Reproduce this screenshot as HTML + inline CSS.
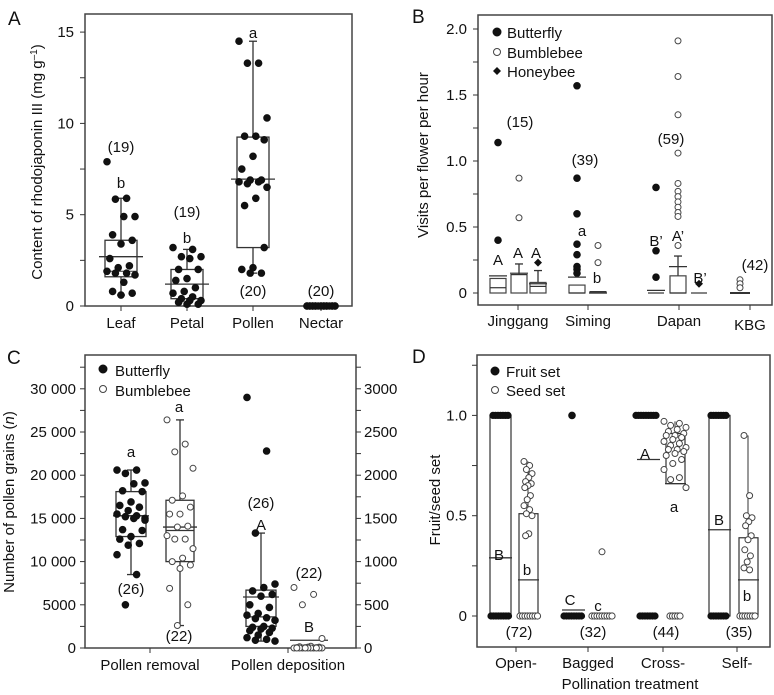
<!DOCTYPE html>
<html><head><meta charset="utf-8">
<style>
html,body{margin:0;padding:0;background:#fff;}
svg{display:block;font-family:"Liberation Sans",Arial,sans-serif;}
text{fill:#111;}
</style></head>
<body>
<svg id="fig" width="774" height="695" viewBox="0 0 774 695" xmlns="http://www.w3.org/2000/svg"></svg>
<script>
// ---------- DATA ----------
// Panel A
const aCategories = ["Leaf","Petal","Pollen","Nectar"];
const aLeaf = [7.9,5.9,5.85,4.9,4.9,3.9,3.6,3.4,2.6,2.2,2.1,1.9,1.8,1.8,1.7,1.3,0.8,0.7,0.6];
const aPetal = [3.2,3.1,2.7,2.7,2.6,2.0,2.0,1.5,1.4,1.0,0.8,0.7,0.5,0.4,0.3,0.3,0.2,0.1,0.1];
const aPollen = [14.5,13.3,13.3,10.3,9.3,9.3,9.1,8.2,7.5,6.9,6.9,6.8,6.8,6.7,6.5,5.9,5.5,3.2,2.1,2.0,1.8,1.8];
const aNectar = [0,0,0,0,0,0,0,0,0,0,0,0,0,0,0,0,0,0,0,0];
const aStats = [[0.6,1.6,2.7,3.6,5.9],[0,0.4,1.2,2.0,3.1],[1.8,3.2,6.95,9.25,14.5],[0,0,0,0,0]];
const aN = ["(19)","(19)","(20)","(20)"];
const aLetters = ["b","b","a",""];
const aTicks = [0,5,10,15];
// Panel B
const bCategories = ["Jinggang","Siming","Dapan","KBG"];
const bButterfly = [[1.14,0.4],[1.57,0.87,0.6,0.37,0.29,0.2,0.18,0.15],[0.8,0.32,0.12],[]];
const bBumblebee = [[0.87,0.57],[0.36,0.23],[1.91,1.64,1.35,1.06,0.83,0.77,0.73,0.69,0.65,0.61,0.58,0.36],[0.1,0.07,0.04]];
const bHoneybee = [[0.23],[],[0.07],[]];
const bTicks = [0,0.5,1.0,1.5,2.0];
// Panel C
const cRemovalButterfly = [20600,20600,20200,19100,19000,18200,18100,16900,16500,16300,15900,15500,15300,15200,15000,15000,13700,13600,12900,12600,12100,11900,10800,8500,5000,14800];
const cRemovalBumblebee = [26400,23600,22700,20800,17600,17100,16300,15500,15500,14100,14000,13000,12600,12600,11500,10400,10000,9600,9200,6900,5000,2600];
const cDepButterfly = [2900,2280,1330,740,700,660,620,600,500,470,400,380,350,340,320,250,240,230,220,200,180,150,120,100,90,80];
const cDepBumblebee = [700,620,500,110,20,15,10,10,5,5,5,0,0,0,0,0,0,0,0,0,0,0];
const cTicksLeft = [0,5000,10000,15000,20000,25000,30000];
const cTicksRight = [0,500,1000,1500,2000,2500,3000];
// Panel D
const dCategories = ["Open-","Bagged","Cross-","Self-"];
const dSeedOpen = [0.77,0.75,0.73,0.71,0.69,0.67,0.66,0.65,0.64,0.6,0.58,0.55,0.53,0.51,0.5,0.41,0.4];
const dSeedBagged = [0.32];
const dSeedCross = [0.97,0.96,0.95,0.94,0.93,0.92,0.91,0.9,0.9,0.89,0.88,0.87,0.86,0.85,0.84,0.83,0.83,0.82,0.81,0.8,0.78,0.76,0.73,0.69,0.68,0.64];
const dSeedSelf = [0.9,0.6,0.5,0.49,0.47,0.45,0.4,0.38,0.33,0.3,0.27,0.24,0.23];
const dFruitMean = [0.29,0.03,0.78,0.43];
const dSeedMedian = [0.18,0.0,0.66,0.18];
const dN = ["(72)","(32)","(44)","(35)"];
const dTicks = [0,0.5,1.0];

// ---------- HELPERS ----------
const svg = document.getElementById('fig');
const NS = "http://www.w3.org/2000/svg";
function mk(tag, attrs, parent){
  const e = document.createElementNS(NS, tag);
  for (const k in attrs) e.setAttribute(k, attrs[k]);
  (parent||svg).appendChild(e);
  return e;
}
function txt(x,y,s,size,anchor,parent){
  const t = mk('text',{x:x,y:y,'font-size':size,'text-anchor':anchor||'middle'},parent);
  t.textContent = s;
  return t;
}
function jit(i){ return ((i*7)%11)/10 - 0.5; }
function dot(x,y,filled,r,parent){
  return mk('circle',{cx:x,cy:y,r:r||3.3,fill:filled?'#111':'#fff',stroke:filled?'#111':'#444','stroke-width':1},parent);
}
function line(x1,y1,x2,y2,parent,w){
  return mk('line',{x1:x1,y1:y1,x2:x2,y2:y2,stroke:'#333','stroke-width':w||1.3},parent);
}
function frame(x1,y1,x2,y2,parent){
  return mk('rect',{x:x1,y:y1,width:x2-x1,height:y2-y1,fill:'none',stroke:'#444','stroke-width':1.5},parent);
}

// ---------- PANEL A ----------
const gA = mk('g',{});


const yA = v => 306 - v*91.3/5;
const xA = [121,187,253,321];
let t = txt(8,25,"A",19,'start',gA);
 
const fA = frame(85,14,352,306,gA);
 
for (let v=0; v<=15; v+=2.5){ line(80,yA(v),85,yA(v),gA,1); }
aTicks.forEach(v=>{
  const tk = txt(74,yA(v)+5,String(v),15,'end',gA);
   
});
t = mk('text',{transform:'translate(42,162) rotate(-90)','font-size':15,'text-anchor':'middle'},gA);
t.innerHTML = 'Content of rhodojaponin III (mg g<tspan dy="-5" font-size="10">\u20131</tspan><tspan dy="5">)</tspan>';
 
const aPts = [aLeaf,aPetal,aPollen,aNectar];
aCategories.forEach((c,i)=>{
  const cx = xA[i], s = aStats[i];
  line(cx,306,cx,311,gA,1);
  const lab = txt(cx,328,c,15,'middle',gA);
   
  const g = mk('g',{},gA);
   
  if (i<3){
    line(cx,yA(s[0]),cx,yA(s[4]),g);
    line(cx-4,yA(s[0]),cx+4,yA(s[0]),g); line(cx-4,yA(s[4]),cx+4,yA(s[4]),g);
    mk('rect',{x:cx-16,y:yA(s[3]),width:32,height:yA(s[1])-yA(s[3]),fill:'#fff',stroke:'#333','stroke-width':1.3},g);
    line(cx-22,yA(s[2]),cx+22,yA(s[2]),g);
    if (i===0) line(cx-16,yA(1.9),cx+16,yA(1.9),g,1);
  } else {
    line(cx-15,yA(0),cx+16,yA(0),g,3);
  }
  aPts[i].forEach((v,j)=>{
    const d = dot(cx + jit(j)*28, yA(v), true, 3.3, g);
     
  });
});
[[121,152,aN[0]],[121,188,aLetters[0]],[187,217,aN[1]],[187,243,aLetters[1]],[253,296,aN[2]],[253,38,aLetters[2]],[321,296,aN[3]]].forEach(a=>{
  const l = txt(a[0],a[1],a[2],15,'middle',gA);
   
});

// ---------- PANEL B ----------
const gB = mk('g',{});


const yB = v => 293 - v*132;
t = txt(412,23,"B",19,'start',gB);
 
const fB = frame(478,15,772,305,gB);
 
for (let v=0; v<=2.0001; v+=0.25){ line(473,yB(v),478,yB(v),gB,1); }
bTicks.forEach(v=>{
  const tk = txt(467,yB(v)+5,v===0?"0":v.toFixed(1),15,'end',gB);
   
});
t = txt(0,0,"Visits per flower per hour",15,'middle',gB);
t.setAttribute('transform','translate(428,155) rotate(-90)');
 
const xB = [518,588,679,750];
const subX = [[498,519,538],[577,598,0],[656,678,699],[0,740,0]];
bCategories.forEach((c,i)=>{
  line(xB[i],305,xB[i],310,gB,1);
  const lab = txt(xB[i],i===3?330:326,c,15,'middle',gB);
   
  bButterfly[i].forEach((v,j)=>{ const d=dot(subX[i][0],yB(v),true,3.3,gB);   });
  bBumblebee[i].forEach((v,j)=>{ const d=dot(subX[i][1],yB(v),false,3,gB);   });
  bHoneybee[i].forEach((v,j)=>{ const d=mk('path',{d:`M${subX[i][2]},${yB(v)-4}l4,4l-4,4l-4,-4z`,fill:'#111'},gB);   });
});
function bbox(cx,q1,med,q3,mean,whi){
  const g = mk('g',{},gB);
   
  if (whi!==null){ line(cx,yB(q3),cx,yB(whi),g); line(cx-4,yB(whi),cx+4,yB(whi),g); }
  if (q3>q1) mk('rect',{x:cx-8,y:yB(q3),width:16,height:yB(q1)-yB(q3),fill:'#fff',stroke:'#444','stroke-width':1.2},g);
  line(cx-8,yB(med),cx+8,yB(med),g,1.2);
  if (mean!==null) line(cx-9,yB(mean),cx+9,yB(mean),g,1.2);
}
bbox(498,0,0.04,0.11,0.13,null);
bbox(519,0,0.14,0.14,0.15,0.22);
bbox(538,0,0.05,0.08,0.07,0.17);
bbox(577,0,0.0,0.06,0.12,null);
bbox(598,0,0.01,0.01,0.0,null);
bbox(656,0,0.0,0.0,0.02,null);
bbox(678,0,0.0,0.13,0.2,0.28);
bbox(699,0,0.0,0.0,null,null);
line(730,yB(0),750,yB(0),gB,2);
[[498,265,"A"],[518,258,"A"],[536,258,"A"],[520,127,"(15)"],[585,165,"(39)"],[582,236,"a"],[597,283,"b"],[656,246,"B’"],[678,241,"A’"],[700,283,"B’"],[671,144,"(59)"],[755,270,"(42)"]].forEach(a=>{
  const l = txt(a[0],a[1],a[2],15,'middle',gB);
   
});
const legB = mk('g',{},gB);
 
let le = dot(497,32,true,4,legB);  
le = dot(497,52,false,3.5,legB);  
le = mk('path',{d:'M497,67l4,4l-4,4l-4,-4z',fill:'#111'},legB);  
[["Butterfly",38],["Bumblebee",58],["Honeybee",77]].forEach(a=>{const l=txt(507,a[1],a[0],15,'start',legB);  });

// ---------- PANEL C ----------
const gC = mk('g',{});


const yC = v => 648 - v*43.2/5000;
const yC2 = v => 648 - v*43.2/500;
t = txt(7,364,"C",19,'start',gC);
 
const fC = frame(85,355,356,648,gC);
 
for (let v=0; v<=32500; v+=2500){ line(80,yC(v),85,yC(v),gC,1); line(356,yC(v),361,yC(v),gC,1); }
cTicksLeft.forEach(v=>{
  const s = v>=10000 ? String(v).replace(/(\d+)(\d{3})$/,'$1 $2') : String(v);
  const tk = txt(76,yC(v)+5,s,15,'end',gC);
   
});
cTicksRight.forEach(v=>{
  const tk = txt(364,yC2(v)+5,String(v),15,'start',gC);
   
});
t = mk('text',{transform:'translate(14,502) rotate(-90)','font-size':15,'text-anchor':'middle'},gC);
t.innerHTML = 'Number of pollen grains (<tspan font-style="italic">n</tspan>)';
 
[["Pollen removal",150],["Pollen deposition",288]].forEach(a=>{
  line(a[1],648,a[1],653,gC,1);
  const l=txt(a[1],670,a[0],15,'middle',gC);  
});
function cbox(cx,hw,sc,st,mean,name){
  const g = mk('g',{},gC);
   
  line(cx,sc(st[0]),cx,sc(st[4]),g);
  line(cx-4,sc(st[0]),cx+4,sc(st[0]),g); line(cx-4,sc(st[4]),cx+4,sc(st[4]),g);
  mk('rect',{x:cx-hw,y:sc(st[3]),width:2*hw,height:sc(st[1])-sc(st[3]),fill:'#fff',stroke:'#333','stroke-width':1.3},g);
  line(cx-hw,sc(st[2]),cx+hw,sc(st[2]),g);
  line(cx-hw-3,sc(mean),cx+hw+3,sc(mean),g);
  return g;
}
const c1 = cbox(131,15,yC,[8500,12900,15300,18100,20600],15300,'box-removal-butterfly');
cRemovalButterfly.forEach((v,j)=>{const d=dot(131+jit(j)*28,yC(v),true,3.3,c1);  });
const c2 = cbox(180,14,yC,[2600,10000,13600,17100,26400],14000,'box-removal-bumblebee');
cRemovalBumblebee.forEach((v,j)=>{const d=dot(180+jit(j)*26,yC(v),false,3,c2);  });
const c3 = cbox(261,15,yC2,[80,250,360,670,1330],590,'box-deposition-butterfly');
cDepButterfly.forEach((v,j)=>{const d=dot(261+jit(j)*28,yC2(v),true,3.3,c3);  });
const c4 = mk('g',{},gC);
 
line(290,yC2(90),328,yC2(90),c4);
cDepBumblebee.forEach((v,j)=>{const d=dot(308+jit(j)*28,yC2(v),false,3,c4);  });
[[131,457,"a"],[131,594,"(26)"],[179,412,"a"],[179,641,"(22)"],[261,508,"(26)"],[261,530,"A"],[309,578,"(22)"],[309,632,"B"]].forEach(a=>{
  const l = txt(a[0],a[1],a[2],15,'middle',gC);
   
});
const legC = mk('g',{},gC);
 
le = dot(103,369,true,4,legC);  
le = dot(103,389,false,3.5,legC);  
[["Butterfly",376],["Bumblebee",396]].forEach(a=>{const l=txt(115,a[1],a[0],15,'start',legC);  });

// ---------- PANEL D ----------
const gD = mk('g',{});


const yD = v => 616 - v*200.6;
t = txt(412,363,"D",19,'start',gD);
 
const fD = frame(477,355,770,647,gD);
 
for (let v=0; v<=1.25001; v+=0.25){ line(472,yD(v),477,yD(v),gD,1); }
dTicks.forEach(v=>{
  const tk = txt(467,yD(v)+5,v===0?"0":v.toFixed(1),15,'end',gD);
   
});
t = txt(0,0,"Fruit/seed set",15,'middle',gD);
t.setAttribute('transform','translate(440,500) rotate(-90)');
 
const xD = [516,588,663,737];
const fx = [500,573,648,719], sx = [528,602,675,748];
dCategories.forEach((c,i)=>{
  line(xD[i],647,xD[i],652,gD,1);
  const l=txt(xD[i],668,c,15,'middle',gD);  
  const n=txt(sx[i]-9,637,dN[i],15,'middle',gD);  
});
const xt = txt(630,689,"Pollination treatment",15,'middle',gD);
 
function row(x1,x2,v,filled,name){
  const g = mk('g',{},gD);
   
  for (let x=x1; x<=x2; x+=2.5) dot(x,yD(v),filled,3.1,g);
}
[[0,1],[0,0],[1,1],[0,1]].forEach((r,i)=>{
  const g = mk('g',{},gD);
   
  if (r[1]>r[0]) mk('rect',{x:fx[i]-10,y:yD(r[1]),width:21,height:yD(r[0])-yD(r[1]),fill:'#fff',stroke:'#333','stroke-width':1.2},g);
  line(fx[i]-11,yD(dFruitMean[i]),fx[i]+12,yD(dFruitMean[i]),g,1.3);
});
row(491,510,0,true,'fruit-zero-open'); row(493,509,1,true,'fruit-one-open');
row(564,583,0,true,'fruit-zero-bagged');
row(640,655,0,true,'fruit-zero-cross'); row(636,657,1,true,'fruit-one-cross');
row(711,728,0,true,'fruit-zero-self'); row(711,728,1,true,'fruit-one-self');
dot(572,yD(1),true,3.3,gD);
[[0,0.51,0.77],[0,0,0],[0.66,0.91,0.97],[0,0.39,0.9]].forEach((r,i)=>{
  const g = mk('g',{},gD);
   
  if (r[1]>r[0]){
    line(sx[i],yD(r[1]),sx[i],yD(r[2]),g,1);
    mk('rect',{x:sx[i]-9,y:yD(r[1]),width:19,height:yD(r[0])-yD(r[1]),fill:'#fff',stroke:'#333','stroke-width':1.2},g);
  }
  line(sx[i]-10,yD(dSeedMedian[i]),sx[i]+11,yD(dSeedMedian[i]),g,1.3);
});
row(520,538,0,false,'seed-zero-open'); row(592,612,0,false,'seed-zero-bagged');
row(670,680,0,false,'seed-zero-cross'); row(740,757,0,false,'seed-zero-self');
[[dSeedOpen,528],[dSeedBagged,602],[dSeedCross,675],[dSeedSelf,748]].forEach((p,i)=>{
  p[0].forEach((v,j)=>{const d=dot(p[1]+(i===1?0:jit(j)*(i===2?22:8)),yD(v),false,3,gD);  });
});
[[499,560,"B"],[527,575,"b"],[570,605,"C"],[598,611,"c"],[645,459,"A"],[674,512,"a"],[719,525,"B"],[747,601,"b"]].forEach(a=>{
  const l = txt(a[0],a[1],a[2],15,'middle',gD);
   
});
const legD = mk('g',{},gD);
 
le = dot(495,371,true,4,legD);  
le = dot(495,390,false,3.5,legD);  
[["Fruit set",377],["Seed set",396]].forEach(a=>{const l=txt(506,a[1],a[0],15,'start',legD);  });
</script>
</body></html>
